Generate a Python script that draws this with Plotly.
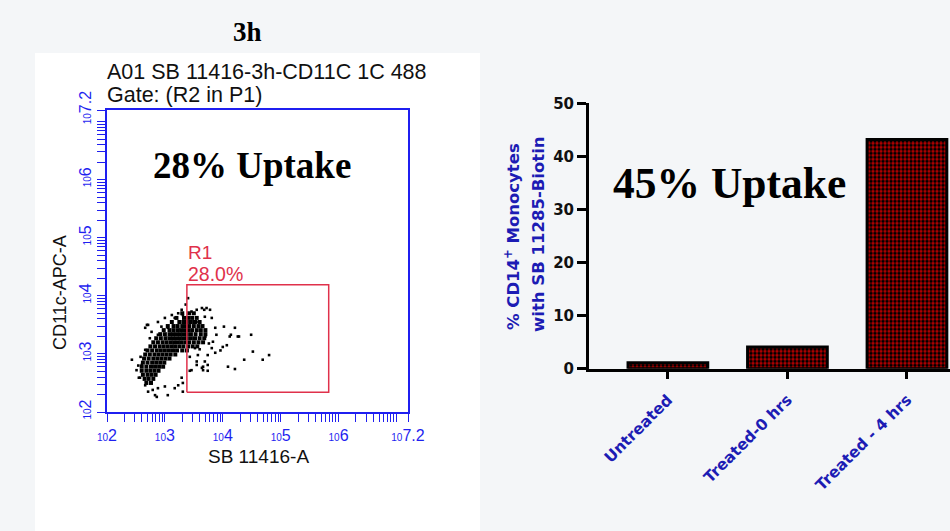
import plotly.graph_objects as go

W, H = 950, 531

# ---------------- data: flow cytometry scatter (log10 units) ----------------
core_row_y = [3.70, 3.62, 3.55, 3.48, 3.41, 3.34, 3.27, 3.20, 3.13, 3.06,
              2.99, 2.92, 2.85, 2.78, 2.71, 2.64, 2.57, 2.50]
core_row_x = [
    [3.30, 3.42, 3.50],
    [3.20, 3.33, 3.40, 3.47, 3.55],
    [3.12, 3.25, 3.32, 3.38, 3.45, 3.52, 3.60],
    [3.05, 3.15, 3.22, 3.30, 3.36, 3.42, 3.50, 3.58, 3.65],
    [2.98, 3.08, 3.15, 3.22, 3.28, 3.34, 3.40, 3.47, 3.55, 3.62, 3.70],
    [2.92, 3.00, 3.08, 3.14, 3.20, 3.26, 3.32, 3.38, 3.45, 3.53, 3.62, 3.70],
    [2.85, 2.93, 3.01, 3.08, 3.14, 3.20, 3.26, 3.32, 3.38, 3.45, 3.52, 3.60, 3.68],
    [2.80, 2.88, 2.96, 3.03, 3.10, 3.16, 3.22, 3.28, 3.35, 3.42, 3.50, 3.58, 3.66],
    [2.75, 2.83, 2.91, 2.98, 3.05, 3.12, 3.18, 3.25, 3.32, 3.40, 3.48, 3.56],
    [2.70, 2.78, 2.86, 2.93, 3.00, 3.07, 3.14, 3.21, 3.30, 3.38],
    [2.66, 2.74, 2.82, 2.89, 2.96, 3.03, 3.10, 3.18],
    [2.64, 2.72, 2.80, 2.87, 2.94, 3.01, 3.08],
    [2.62, 2.70, 2.78, 2.85, 2.92, 2.99],
    [2.60, 2.68, 2.76, 2.83, 2.90, 2.97],
    [2.60, 2.68, 2.75, 2.82, 2.89],
    [2.62, 2.70, 2.77, 2.84],
    [2.65, 2.72, 2.80],
    [2.68, 2.76],
]

sparse_x = [3.68, 3.72, 3.78, 3.69, 3.81, 3.87, 3.89, 3.83, 3.81, 3.74, 3.69, 3.74, 3.66,
            4.02, 4.21, 4.12, 4.26, 4.49, 4.00, 4.07, 3.87, 4.52, 4.37, 4.69, 4.80, 4.09, 4.21,
            2.66, 2.71, 2.77, 2.88, 3.00, 3.12, 3.17, 3.23, 3.31, 3.29, 3.40, 3.46, 3.55, 3.64,
            2.74, 2.88, 3.05, 2.94,
            2.43, 2.51, 2.57, 2.66, 2.71, 2.83, 2.88, 3.00, 3.05, 3.17, 3.23, 3.31, 3.29, 3.46,
            3.55, 3.64, 3.43, 3.57, 2.66, 2.60,
            3.31, 3.43, 3.74, 3.66, 3.55, 2.86, 2.55, 2.69, 3.58, 3.62, 3.70, 3.76, 3.60, 3.52,
            4.14, 4.28, 3.36, 2.58, 2.54, 2.79, 3.96]
sparse_y = [3.76, 3.79, 3.76, 3.64, 3.62, 3.45, 3.33, 3.21, 3.10, 2.98, 2.87, 2.81, 2.72,
            3.47, 3.45, 3.30, 3.30, 3.33, 3.12, 3.15, 3.02, 3.04, 2.90, 2.90, 2.98, 2.78, 2.74,
            3.45, 3.50, 3.38, 3.55, 3.62, 3.67, 3.62, 3.70, 3.67, 3.76, 3.96, 3.73, 3.76, 3.79,
            3.27, 3.33, 3.45, 3.47,
            2.90, 2.72, 2.59, 2.46, 2.35, 2.29, 2.41, 2.44, 2.29, 2.41, 2.46, 2.35, 2.59, 2.72,
            2.81, 2.76, 2.95, 2.98, 3.07, 2.81,
            2.50, 2.71, 2.71, 2.78, 2.87, 2.26, 2.59, 3.50, 3.55, 3.40, 3.30, 3.18, 3.08, 3.10,
            3.33, 3.30, 3.85, 2.95, 2.80, 2.38, 3.06]

gate_x_log = [3.38, 5.83]
gate_y_log = [2.34, 4.19]
gate_label = "R1"
gate_pct = "28.0%"

log_range = [2, 7.2]
decades = [2, 3, 4, 5, 6, 7]

# ---------------- data: bar chart ----------------
categories = ["Untreated", "Treated-0 hrs", "Treated - 4 hrs"]
values = [1.1, 4.1, 43.2]
bar_ticks = [0, 10, 20, 30, 40, 50]

# ---------------- build ticks for log axes ----------------
tickvals, ticktext = [], []
for d in decades:
    tickvals.append(10 ** d)
    ticktext.append("<span style='font-size:10px'>10</span>" + str(d) if d < 7 else " ")
    if d < 7:
        for m in range(2, 10):
            tickvals.append(m * 10 ** d)
            ticktext.append(" ")
tickvals.append(10 ** 7.2)
ticktext.append("<span style='font-size:10px'>10</span>7.2")

BLUE = "#1f1ff0"
RED = "#e0314b"

core_x, core_y = [], []
for yv, xs in zip(core_row_y, core_row_x):
    for xv in xs:
        core_x.append(10 ** xv)
        core_y.append(10 ** yv)

fig = go.Figure()

fig.add_trace(go.Scatter(x=core_x, y=core_y, mode="markers",
                         marker=dict(symbol="square", size=4, color="black", line=dict(width=0)),
                         xaxis="x", yaxis="y", showlegend=False, hoverinfo="skip"))
fig.add_trace(go.Scatter(x=[10 ** v for v in sparse_x], y=[10 ** v for v in sparse_y], mode="markers",
                         marker=dict(symbol="square", size=2.6, color="black", line=dict(width=0)),
                         xaxis="x", yaxis="y", showlegend=False, hoverinfo="skip"))
# gate R1 outline
gx0, gx1 = 10 ** gate_x_log[0], 10 ** gate_x_log[1]
gy0, gy1 = 10 ** gate_y_log[0], 10 ** gate_y_log[1]
fig.add_trace(go.Scatter(x=[gx0, gx1, gx1, gx0, gx0], y=[gy0, gy0, gy1, gy1, gy0], mode="lines",
                         line=dict(color=RED, width=1.5), xaxis="x", yaxis="y",
                         showlegend=False, hoverinfo="skip"))

fig.add_trace(go.Bar(x=categories, y=values, xaxis="x2", yaxis="y2", width=0.667,
                     marker=dict(color="#b00000",
                                 line=dict(color="black", width=3),
                                 pattern=dict(shape=".", fgcolor="black", bgcolor="#c00000",
                                              size=4, solidity=0.6, fillmode="replace")),
                     showlegend=False, hoverinfo="skip"))

def px(x):
    return x / W

def py(y):
    return 1 - y / H

shapes = [
    dict(type="rect", xref="paper", yref="paper", x0=px(35), x1=px(480), y0=0, y1=py(53),
         fillcolor="white", line=dict(width=0), layer="below"),
]

serif = "Liberation Serif"
sans = "Liberation Sans"
annotations = [
    dict(text="<b>3h</b>", x=px(247), y=py(32), font=dict(family=serif, size=27, color="black")),
    dict(text="A01 SB 11416-3h-CD11C 1C 488", x=px(105), y=py(72), xanchor="left",
         font=dict(family=sans, size=21.5, color="#111")),
    dict(text="Gate: (R2 in P1)", x=px(105), y=py(95), xanchor="left",
         font=dict(family=sans, size=21.5, color="#111")),
    dict(text="<b>28% Uptake</b>", x=px(252), y=py(166), font=dict(family=serif, size=37, color="black")),
    dict(text=gate_label, x=px(186), y=py(252), xanchor="left", font=dict(family=sans, size=19, color=RED)),
    dict(text=gate_pct, x=px(186), y=py(274), xanchor="left", font=dict(family=sans, size=19.5, color=RED)),
    dict(text="SB 11416-A", x=px(258), y=py(456), font=dict(family=sans, size=19, color="#111")),
    dict(text="CD11c-APC-A", x=px(60), y=py(293), textangle=-90, font=dict(family=sans, size=18, color="#111")),
    dict(text="<b>45% Uptake</b>", x=px(729), y=py(183), font=dict(family=serif, size=43.5, color="black")),
    dict(text="<b>% CD14<sup>+</sup> Monocytes</b>", x=px(512), y=py(237), textangle=-90,
         font=dict(family="DejaVu Sans", size=16.5, color="#1c1cb4")),
    dict(text="<b>with SB 11285-Biotin</b>", x=px(539), y=py(234), textangle=-90,
         font=dict(family="DejaVu Sans", size=16.5, color="#1c1cb4")),
]
for a in annotations:
    a.update(xref="paper", yref="paper", showarrow=False)
    a.setdefault("xanchor", "center")
    a.setdefault("yanchor", "middle")

log_axis_common = dict(type="log", range=log_range, tickvals=tickvals, ticktext=ticktext,
                       ticks="outside", ticklen=8, tickwidth=1.2, tickcolor=BLUE,
                       showline=True, linecolor=BLUE, linewidth=1.6, mirror=True,
                       showgrid=False, zeroline=False, automargin=False,
                       tickfont=dict(family=sans, size=16, color=BLUE))

fig.update_layout(
    width=W, height=H,
    autosize=False,
    margin=dict(l=0, r=0, t=0, b=0, pad=0),
    paper_bgcolor="#f4f6f8",
    plot_bgcolor="rgba(0,0,0,0)",
    shapes=shapes,
    annotations=annotations,
    xaxis=dict(domain=[px(107), px(408)], anchor="y", tickangle=0, **log_axis_common),
    yaxis=dict(domain=[py(412), py(110)], anchor="x", tickangle=-90, **log_axis_common),
    xaxis2=dict(domain=[px(589), 1.0], anchor="y2", range=[-0.66, 2.36], automargin=False,
                showline=True, linecolor="black", linewidth=3,
                ticks="outside", ticklen=7, tickwidth=2.5, tickcolor="black",
                tickangle=-45, ticklabelstandoff=6, showgrid=False, zeroline=False,
                tickfont=dict(family="DejaVu Sans", size=15.5, color="#1c1cb4", weight="bold")),
    yaxis2=dict(domain=[py(368.7), py(103.3)], anchor="x2", range=[0, 50], automargin=False,
                tickvals=bar_ticks, showline=True, linecolor="black", linewidth=3,
                ticks="outside", ticklen=9, tickwidth=3, tickcolor="black",
                showgrid=False, zeroline=False,
                tickfont=dict(family="DejaVu Sans", size=15, color="#111", weight="bold")),
)

post = ("document.documentElement.style.margin='0';document.body.style.margin='0';"
        "document.body.style.overflow='hidden';document.body.style.background='#f4f6f8';")
fig.write_html("out.html", post_script=post, config={"displayModeBar": False})
